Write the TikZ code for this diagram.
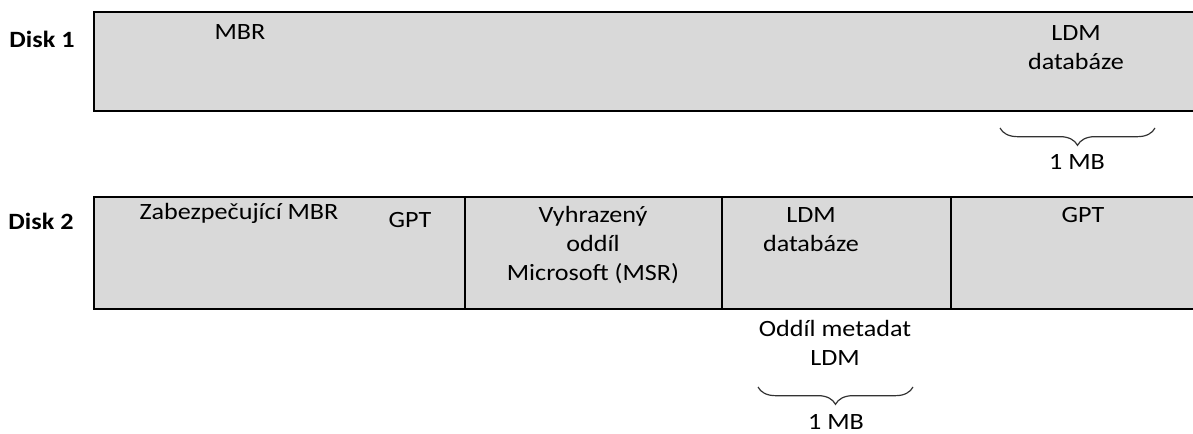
\documentclass[tikz,border=0pt]{standalone}
\usepackage{fontspec}
\setmainfont{Carlito}[FakeStretch=1.12]
\usetikzlibrary{decorations.pathreplacing}
\definecolor{diskFill}{HTML}{D9D9D9}
\definecolor{braceGray}{HTML}{333333}

\begin{document}
\begin{tikzpicture}[
  x=0.75pt, y=-0.75pt,
  font=\fontsize{17.5}{21.75}\selectfont,
  lbl/.style={anchor=base, inner sep=0pt, align=center},
  disklbl/.style={lbl, font=\fontsize{17.5}{21.75}\selectfont\bfseries},
  rim/.style={line width=1.4pt},
  divider/.style={line width=1.1pt},
  sizebrace/.style={decorate, decoration={brace, mirror, amplitude=13pt},
                    draw=braceGray, line width=0.9pt}
]
\useasboundingbox (0,0) rectangle (1193,434);

% disk 1
\coordinate (d1nw) at (94,12);
\coordinate (d1se) at (1193,111);
\fill[diskFill] (d1nw) rectangle (d1se);
\draw[rim] (d1nw -| d1se) -- (d1nw) -- (d1nw |- d1se) -- (d1se);

\node[disklbl] (disk1) at (42,48) {Disk 1};
\node[lbl] (mbr1) at (240,40) {MBR};
\node[lbl] (ldm1) at (1076,70) {LDM\\databáze};

\coordinate (br1a) at (1000,128);
\coordinate (br1b) at (1155,128);
\draw[sizebrace] (br1a) -- (br1b);
\node[lbl] (mb1) at (1077,170) {1 MB};

% disk 2
\coordinate (d2nw) at (94,197);
\coordinate (d2se) at (1193,309);
\fill[diskFill] (d2nw) rectangle (d2se);
\draw[rim] (d2nw -| d2se) -- (d2nw) -- (d2nw |- d2se) -- (d2se);
\foreach \xx in {465,722,951}
  \draw[divider] (\xx,197) -- (\xx,309);

\node[disklbl] (disk2) at (41,230) {Disk 2};
\node[lbl] (pmbr) at (239,220) {Zabezpečující MBR};
\node[lbl] (gpt1) at (410,228) {GPT};
\node[lbl] (msr) at (593,281) {Vyhrazený\\oddíl\\Microsoft (MSR)};
\node[lbl] (ldm2) at (811,252) {LDM\\databáze};
\node[lbl] (gpt2) at (1083,223) {GPT};

\node[lbl] (meta) at (835,366) {Oddíl metadat\\LDM};
\coordinate (br2a) at (758,387);
\coordinate (br2b) at (913,387);
\draw[sizebrace] (br2a) -- (br2b);
\node[lbl] (mb2) at (836,430) {1 MB};
\end{tikzpicture}
\end{document}
